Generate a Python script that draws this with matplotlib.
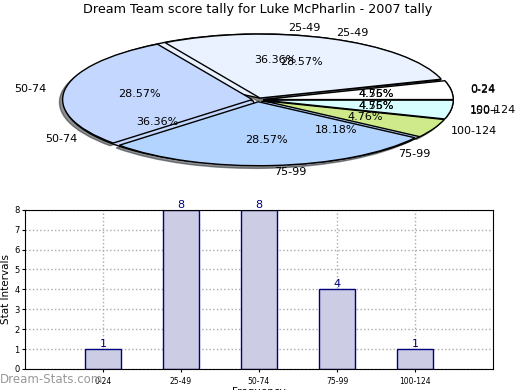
import matplotlib
matplotlib.use('Agg')
import matplotlib.pyplot as plt

# tally data (bar chart + first pie)
intervals = ['0-24', '25-49', '50-74', '75-99', '100-124']
counts = [1, 8, 8, 4, 1]

# second pie that is drawn on top of the first one
intervals2 = ['0-24', '25-49', '50-74', '75-99', '100-124', '150+']
counts2 = [1, 6, 6, 6, 1, 1]

colors = ['#ffffff', '#ebf2ff', '#c4d8ff', '#b3d4fe', '#cfea8a', '#d8ffff']

fig = plt.figure(figsize=(5.2, 3.9), dpi=100)

# pie part
ax1 = fig.add_axes([0.04, 0.539, 0.912, 0.41])
ax1.pie(counts, labels=intervals, colors=colors[:5], autopct='%.2f%%',
        explode=[0.03] * 5,
        wedgeprops={'edgecolor': 'black', 'linewidth': 1},
        textprops={'fontsize': 8})
ax1.pie(counts2, labels=intervals2, colors=colors, autopct='%.2f%%',
        shadow={'ox': -0.012, 'oy': -0.03, 'shade': 0.85}, explode=[0.03] * 6,
        wedgeprops={'edgecolor': 'black', 'linewidth': 1},
        textprops={'fontsize': 8})
ax1.set_aspect('auto')
ax1.set_xlim(-1.25, 1.25)
ax1.set_ylim(-1.25, 1.25)
ax1.set_title('Dream Team score tally for Luke McPharlin - 2007 tally', fontsize=9.2, pad=5)

# bar part
ax2 = fig.add_axes([0.048, 0.054, 0.9, 0.408])
x = list(range(len(intervals)))
bars = ax2.bar(x, counts, width=0.46, color='#ccccE4', edgecolor='#000080', linewidth=1, zorder=2)
for xi, c in zip(x, counts):
    ax2.text(xi, c, str(c), ha='center', va='bottom', color='#000080', fontsize=8)
ax2.set_xlim(-1, 5)
ax2.set_ylim(0, 8)
ax2.set_xticks(x)
ax2.set_xticklabels(intervals, fontsize=5.5)
ax2.set_yticks(range(9))
ax2.tick_params(axis='y', labelsize=6, length=2, pad=2)
ax2.tick_params(axis='x', length=2)
ax2.grid(True, linestyle=':', color='#aaaaaa', linewidth=1, zorder=0)
ax2.set_axisbelow(True)
ax2.set_ylabel('Stat Intervals', fontsize=7.5)
ax2.yaxis.set_label_coords(-0.029, 0.5)
ax2.set_xlabel('Frequency', fontsize=7.5, labelpad=1)

fig.text(0.0, 0.026, 'Dream-Stats.com', color='#999999', fontsize=8.5, va='center')

fig.savefig('out.png', dpi=100)
